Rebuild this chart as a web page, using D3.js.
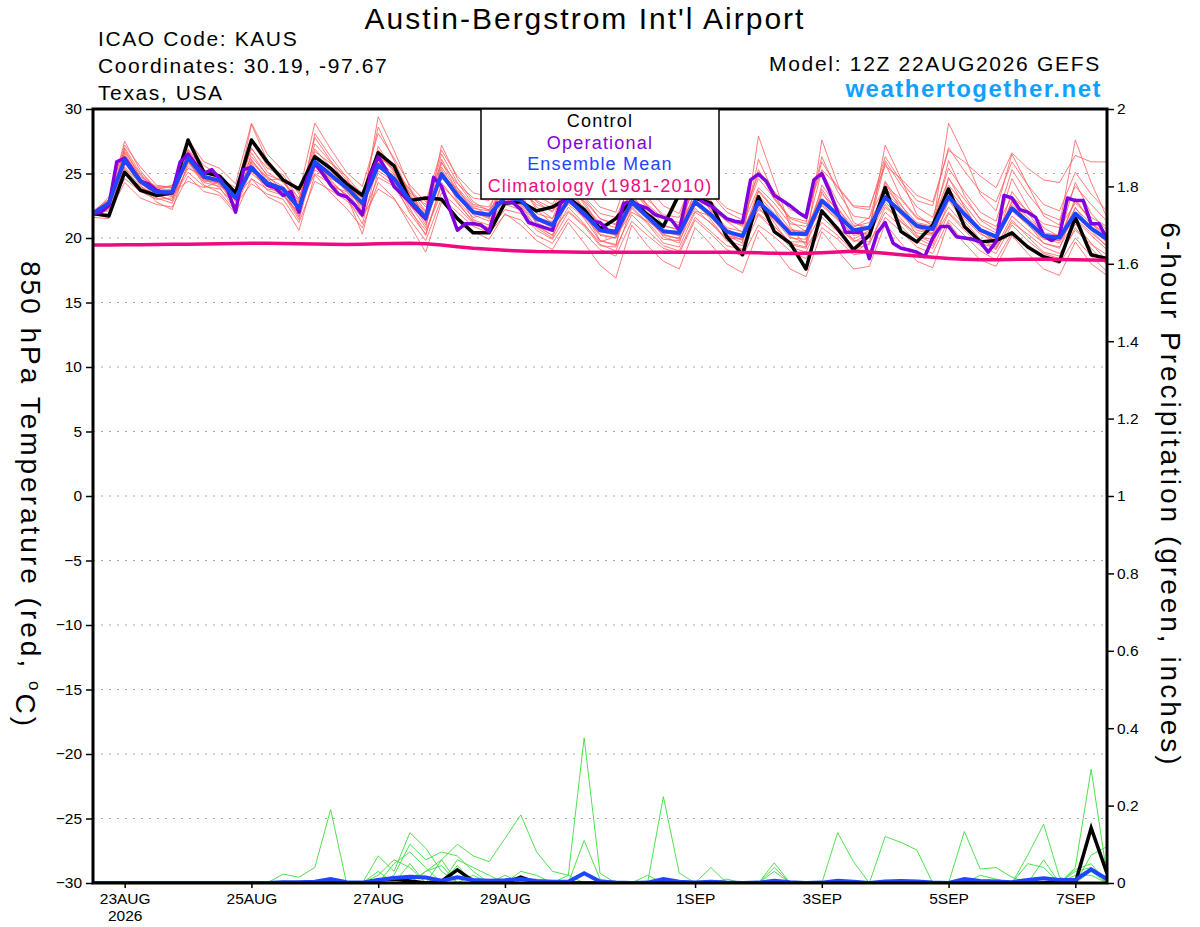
<!DOCTYPE html>
<html>
<head>
<meta charset="utf-8">
<script src="https://cdnjs.cloudflare.com/ajax/libs/d3/7.8.5/d3.min.js"></script>
<style>
  body { margin: 0; background: #fff; }
  svg { display: block; font-family: "Liberation Sans", Arial, sans-serif; }
</style>
</head>
<body>
<div id="chart"></div>
<script>
// run start 12Z 22AUG2026, 6-hourly ensemble output, 3-hourly operational
var runStart = Date.UTC(2026, 7, 22, 12);
var runHours = 384;

var tickDays = ["2026-08-23", "2026-08-25", "2026-08-27", "2026-08-29",
                "2026-09-01", "2026-09-03", "2026-09-05", "2026-09-07"];
var tempTicks = [-30, -25, -20, -15, -10, -5, 0, 5, 10, 15, 20, 25, 30];
var precipTicks = [0, 0.2, 0.4, 0.6, 0.8, 1, 1.2, 1.4, 1.6, 1.8, 2];

// 850 hPa temperature (C)
var control = [21.9,21.7,25.1,23.7,23.3,23.5,27.6,25.1,24.8,23.5,
  27.6,25.9,24.5,23.8,26.3,25.4,24.2,23.3,26.6,25.6,
  22.9,23.1,23.0,21.5,20.4,20.4,22.7,22.8,22.1,22.4,
  23.1,22.2,20.7,21.5,22.9,21.8,20.9,23.4,23.1,22.7,
  20.1,18.7,23.2,20.5,19.6,17.6,22.1,20.7,19.1,20.2,
  23.9,20.5,19.7,21.0,23.8,20.9,19.7,19.8,20.4,19.3,
  18.55,18.2,21.6,18.7,18.4];

var ensMean = [21.9,22.7,26.05,24.4,23.55,23.55,26.2,24.75,24.45,23.1,
  25.45,24.25,23.8,22.3,25.9,24.9,23.9,22.7,25.65,24.6,
  22.9,21.6,24.95,23.3,22.0,21.8,23.15,22.95,21.5,21.0,
  22.95,21.9,20.6,20.4,22.8,21.65,20.5,20.4,22.8,21.8,
  20.5,20.15,22.8,21.65,20.36,20.3,22.9,21.8,20.6,20.8,
  23.15,22.04,20.93,20.7,23.2,21.84,20.62,20.1,22.3,21.26,
  20.18,20.03,21.9,20.75,19.92];

var operational = [21.9,22.0,22.5,25.9,26.2,25.3,24.4,24.2,23.7,23.5,
  23.5,25.9,26.5,25.7,25.0,25.3,24.6,23.7,22.0,25.3,
  25.5,24.8,24.1,23.9,23.3,23.6,22.0,24.6,25.8,25.0,
  24.1,23.4,23.2,22.6,21.8,24.9,26.3,25.3,24.0,23.4,
  22.8,22.1,21.5,24.7,24.0,22.3,20.6,21.1,21.1,21.0,
  20.5,22.7,22.75,22.75,22.2,21.2,21.0,20.8,20.6,22.7,
  23.1,22.4,21.8,21.3,21.2,20.6,20.5,22.7,22.8,22.5,
  22.3,21.8,21.6,21.4,20.6,23.3,23.4,22.8,22.5,22.0,
  21.5,21.3,21.2,24.5,24.95,24.4,23.3,22.9,22.5,22.0,
  21.6,24.5,25.0,23.6,22.0,20.45,20.45,20.45,18.4,20.4,
  21.2,19.6,19.2,19.07,18.9,18.55,20.0,20.9,20.9,20.1,
  20.0,19.9,19.7,18.9,19.7,23.3,23.1,22.2,22.0,21.6,
  20.2,19.8,20.2,23.1,22.9,22.9,21.1,21.1,19.9];

var climatology = [19.45,19.46,19.47,19.48,19.5,19.51,19.52,19.54,19.55,19.57,
  19.6,19.6,19.58,19.56,19.54,19.52,19.5,19.52,19.55,19.58,
  19.6,19.55,19.45,19.32,19.2,19.12,19.05,19.0,18.95,18.93,
  18.91,18.9,18.9,18.9,18.9,18.9,18.9,18.9,18.9,18.9,
  18.9,18.88,18.85,18.82,18.8,18.82,18.86,18.92,18.98,18.92,
  18.82,18.7,18.6,18.5,18.42,18.36,18.32,18.32,18.34,18.36,
  18.36,18.34,18.32,18.3,18.27];

var memberA = [21.8,22.9,27.5,25.2,23.8,23.4,27.3,25.6,24.9,23.0,28.8,26.0,24.6,22.0,28.1,26.3,24.7,
  22.4,29.4,26.8,23.9,21.2,27.2,24.6,22.8,22.1,25.4,24.0,22.4,21.5,24.6,22.6,20.9,
  20.2,24.1,22.5,21.0,20.6,24.4,22.9,21.3,20.4,26.1,23.4,21.3,20.5,25.2,22.8,21.0,
  20.9,25.8,23.1,21.6,21.0,26.0,23.3,21.4,20.6,24.6,22.4,20.8,20.1,24.3,21.9,20.6];
var memberB = [21.7,22.3,24.6,23.6,23.0,23.1,25.1,24.0,23.8,22.6,24.2,23.4,23.0,21.2,24.4,23.7,22.9,
  21.6,23.8,23.0,21.4,19.8,23.1,22.0,20.9,20.4,21.8,21.4,20.2,19.6,21.5,20.4,19.1,
  18.6,21.3,20.2,19.2,18.8,21.4,20.3,19.1,18.6,21.0,20.1,19.0,18.4,20.8,19.9,18.7,
  18.9,21.6,20.5,19.3,18.8,21.4,20.2,19.0,18.3,20.4,19.4,18.5,18.0,20.0,18.6,17.4];
var memberC = [22.0,22.8,26.4,24.8,23.9,23.9,26.8,25.2,24.8,23.6,26.3,24.9,24.4,23.1,26.9,25.5,24.4,
  23.5,26.4,25.3,23.5,22.6,25.8,24.2,23.1,22.9,24.3,23.8,22.6,22.1,24.1,23.2,21.9,
  21.6,24.3,23.0,21.8,21.6,24.6,23.5,22.3,21.8,24.9,23.6,22.2,21.8,25.3,24.0,22.5,
  22.4,25.6,24.6,23.3,22.8,26.8,25.9,24.8,23.9,26.6,25.4,24.5,24.3,26.4,25.9,25.9];
var memberD = [21.9,22.6,26.9,24.6,23.4,22.9,26.5,24.9,24.2,22.4,25.9,24.6,23.5,21.6,26.4,25.1,23.6,
  22.0,27.1,25.2,22.6,20.8,25.9,23.6,21.4,21.0,24.4,23.6,21.0,20.2,24.2,22.1,19.8,
  19.4,24.8,22.4,20.3,19.9,25.1,22.6,20.2,19.6,27.9,24.4,20.9,19.4,27.6,24.2,21.2,
  20.6,27.2,24.6,21.8,20.9,28.9,26.4,23.4,22.1,26.5,24.1,21.7,21.0,27.6,24.3,21.6];
var memberE = [21.6,21.5,25.8,24.1,22.8,22.2,25.9,24.5,24.6,23.9,25.0,24.0,23.3,21.9,25.3,24.4,23.3,
  20.3,25.2,24.4,22.3,20.2,24.1,22.8,21.2,20.8,22.6,22.2,20.9,20.2,22.4,21.1,19.5,
  19.0,22.3,21.1,19.6,19.3,22.0,21.2,19.8,19.1,21.8,20.6,19.3,18.9,21.6,20.5,19.2,
  19.5,22.4,21.3,20.0,19.4,22.9,21.3,19.9,19.1,21.4,20.1,18.9,18.6,21.1,19.6,18.2];
var memberF = [22.1,23.0,26.0,24.7,24.0,24.0,26.1,24.3,24.0,23.4,27.0,25.1,24.3,22.9,27.3,25.9,24.2,
  22.8,26.2,25.5,23.7,22.1,24.6,23.9,22.5,22.2,23.6,23.1,21.9,21.5,23.4,22.4,21.2,
  20.8,23.2,22.0,20.9,20.7,23.5,22.2,20.8,20.5,23.3,21.9,20.6,20.5,23.4,22.2,20.9,
  21.2,23.6,22.3,21.1,20.8,23.5,22.1,20.7,20.2,22.8,21.6,20.4,20.2,22.3,21.1,20.3];
var memberG = [21.8,22.5,25.2,23.9,23.4,23.7,26.9,25.3,24.5,22.8,25.6,24.2,23.9,22.5,25.5,24.6,24.0,
  23.1,25.0,24.1,22.6,21.3,25.3,23.4,22.0,21.6,23.0,22.6,21.2,20.6,22.1,21.0,19.7,
  20.1,22.0,21.3,20.5,20.2,22.3,21.1,20.0,19.9,22.5,21.5,20.3,20.6,22.0,20.9,19.7,
  20.3,22.6,21.2,20.4,20.2,22.4,21.0,19.9,19.3,21.7,20.6,19.6,19.3,21.4,20.2,19.1];
var memberH = [21.9,23.2,27.2,25.5,24.1,23.9,27.6,25.9,25.4,24.2,28.9,26.5,25.2,23.4,28.9,26.9,25.1,
  24.0,28.1,26.2,24.1,22.8,26.8,24.8,23.5,23.2,25.6,24.8,23.3,22.6,25.0,23.8,22.4,
  22.0,25.5,24.0,22.5,21.9,24.9,23.4,22.0,21.4,24.6,23.1,21.6,21.3,25.9,23.9,22.4,
  22.2,26.3,24.4,22.9,22.5,27.0,25.2,23.6,22.8,25.9,24.1,22.6,22.1,25.1,23.4,22.1];
var memberI = [21.7,21.9,24.3,23.1,22.6,22.4,24.8,23.6,23.3,21.9,24.6,23.2,22.6,20.6,24.9,23.5,22.3,
  20.8,24.3,23.1,21.0,18.9,22.8,21.6,20.5,19.9,21.9,21.0,19.8,19.1,21.2,19.6,17.9,
  16.9,21.0,19.4,18.2,17.6,20.8,19.5,18.0,17.3,20.6,19.2,17.6,17.0,20.5,19.0,17.6,
  17.8,21.1,19.6,18.2,17.7,21.2,19.6,18.3,17.8,20.2,18.8,17.6,17.1,19.7,18.0,17.1];
var memberJ = [22.0,22.7,25.5,24.2,23.5,23.2,25.4,24.8,24.6,23.5,25.1,24.5,24.6,23.6,25.8,24.7,23.7,
  22.9,25.9,24.6,22.8,21.7,25.5,23.6,22.3,22.1,23.9,23.2,21.6,21.2,22.8,21.8,20.6,
  20.5,22.5,21.6,20.6,20.4,22.8,22.0,20.7,20.0,22.2,21.5,20.2,20.3,22.5,21.4,20.3,
  20.9,23.1,22.0,20.8,20.4,23.3,21.7,20.5,19.9,22.1,21.0,19.9,19.8,21.5,20.4,19.4];
var memberK = [21.9,22.4,26.7,24.9,23.7,24.1,26.0,24.1,23.5,22.1,26.6,24.8,23.7,21.7,26.2,25.3,24.3,
  22.0,26.8,25.6,23.3,21.6,26.1,23.9,22.0,21.5,24.8,24.1,22.2,21.1,23.8,22.8,20.9,
  20.3,23.8,22.3,20.6,20.2,23.7,22.1,20.4,19.8,23.6,22.2,20.1,19.6,24.1,22.4,20.5,
  20.2,24.4,22.6,20.8,20.3,23.8,22.3,20.6,19.7,23.6,22.0,20.2,19.8,23.1,21.2,19.8];
var memberL = [21.8,22.8,26.3,24.3,23.2,23.5,24.4,23.9,24.4,22.3,25.3,23.7,23.3,22.0,25.6,24.0,23.6,
  22.5,25.4,24.9,23.0,21.0,25.1,22.9,21.6,21.9,22.9,22.4,21.3,21.3,22.6,21.6,20.3,
  20.0,22.4,21.2,19.9,19.8,22.1,21.7,20.6,20.1,21.9,20.9,19.7,19.7,21.9,20.7,19.9,
  20.6,22.8,21.5,20.1,19.9,22.0,20.8,19.6,19.2,21.2,20.3,19.3,18.8,20.6,19.5,18.7];
var memberM = [21.9,23.0,26.6,24.5,23.6,23.8,26.4,24.7,24.1,23.2,26.9,25.4,24.9,23.0,26.7,25.8,24.8,
  23.3,26.6,25.1,23.8,22.4,24.8,23.1,21.9,21.7,25.1,24.6,22.9,22.3,24.5,23.1,21.5,
  21.1,23.5,22.6,21.5,21.2,23.1,22.3,21.3,21.0,23.9,22.7,21.1,20.9,23.0,21.8,20.8,
  21.6,24.1,23.0,21.5,21.2,24.6,23.0,21.5,20.9,23.2,22.1,21.1,20.8,22.7,21.6,20.9];
var memberN = [22.0,22.1,25.0,23.8,23.1,22.7,25.6,24.4,24.3,23.1,24.6,23.8,23.6,22.4,25.0,24.2,23.4,
  21.6,24.7,24.0,22.1,20.6,23.5,22.4,21.1,20.6,22.2,21.9,20.6,19.9,22.0,20.9,19.4,
  19.3,21.8,20.6,19.4,19.0,21.6,20.5,19.4,19.1,22.4,20.9,19.6,19.3,21.2,20.2,18.9,
  19.6,22.0,20.9,19.7,19.2,21.9,20.6,19.4,18.8,21.0,19.8,18.8,18.4,20.8,19.2,17.9];
var memberO = [21.8,22.6,27.0,25.0,23.9,23.6,26.7,25.0,24.7,23.4,27.5,25.6,24.4,22.8,27.8,26.0,24.5,
  23.0,28.6,26.0,23.4,22.0,26.5,24.3,22.6,22.4,24.9,24.2,22.8,22.0,24.0,22.9,21.5,
  21.0,24.9,23.2,21.6,21.0,24.1,22.7,21.5,20.9,25.3,23.0,21.5,21.1,26.3,23.6,21.7,
  21.5,26.0,24.1,22.4,21.6,25.4,23.6,22.0,21.3,25.3,23.4,21.9,21.4,24.0,22.6,21.3];
var memberP = [21.7,22.2,25.4,24.0,23.3,22.9,26.2,24.6,23.9,22.2,26.1,24.4,23.4,21.4,26.0,24.5,23.2,
  21.1,25.8,24.3,21.9,20.3,24.3,22.7,21.3,20.7,23.2,22.5,20.8,20.0,23.1,21.5,19.8,
  19.5,23.4,21.7,20.1,19.6,23.0,21.4,19.8,19.4,22.9,21.2,19.5,19.2,23.6,21.5,19.8,
  19.7,24.3,22.2,20.2,19.6,24.7,22.4,20.4,19.5,22.9,21.1,19.6,19.2,22.4,20.6,19.3];
var memberQ = [22.0,22.9,26.2,24.6,23.7,23.6,25.8,24.5,24.3,23.3,26.0,24.7,24.0,22.7,26.5,25.2,24.1,
  22.6,25.9,25.0,23.2,21.9,25.0,23.7,22.4,21.8,23.5,23.0,21.7,21.0,23.3,22.0,20.5,
  20.2,23.0,21.9,20.7,20.3,23.2,21.8,20.5,20.3,23.7,22.3,20.7,20.4,23.8,22.0,20.5,
  20.7,23.9,22.5,21.2,20.9,24.1,22.6,21.0,20.4,22.6,21.4,20.3,20.0,22.9,21.3,20.0];
var memberR = [21.9,22.4,26.1,24.3,23.4,23.3,26.6,24.8,24.2,22.9,25.8,24.0,23.6,22.2,26.1,24.8,23.8,
  22.3,25.5,24.5,22.5,21.4,24.7,23.2,21.8,21.3,23.4,22.8,21.4,20.8,22.9,21.7,20.2,
  20.0,22.6,21.4,20.2,20.0,22.6,21.6,20.2,19.9,22.7,21.4,20.0,19.9,22.6,21.5,20.2,
  20.4,23.3,21.8,20.6,20.3,23.0,21.5,20.3,19.8,22.2,21.2,20.0,19.6,21.9,20.8,19.6];
var tempMembers = [memberA, memberB, memberC, memberD, memberE, memberF, memberG,
                   memberH, memberI, memberJ, memberK, memberL, memberM, memberN,
                   memberO, memberP, memberQ, memberR];

// 6-hour precipitation (inches)
var precipControl = [0,0,0,0,0,0,0,0,0,0,0,0,0,
  0,0,0,0,0,0.008,0.01,0.005,0,0.005,0.034,0.005,0,
  0,0.015,0,0,0,0,0,0,0,0,0,0,0,
  0,0,0,0,0,0,0,0,0,0,0,0,0,
  0,0,0,0,0,0,0,0,0,0.005,0,0.142,0.025];
var precipMean = [0,0,0,0,0,0,0,0,0,0,0,0,0.002,
  0.002,0.003,0.01,0.002,0.001,0.008,0.013,0.016,0.014,0.006,0.015,0.008,0.006,
  0.007,0.01,0.005,0.003,0.003,0.025,0.004,0.001,0,0.001,0.01,0.003,0.001,
  0.003,0.001,0,0.001,0.006,0.002,0,0.001,0.006,0.003,0,0.004,0.005,
  0.004,0.001,0,0.01,0.005,0.004,0.002,0.008,0.012,0.008,0.008,0.035,0.01];
var precip1 = [0,0,0,0,0,0,0,0,0,0,0,0,0.023,
  0.015,0.04,0.19,0,0,0,0,0,0,0,0,0,0,
  0,0,0,0,0,0,0,0,0,0,0,0,0,
  0,0,0,0,0,0,0,0,0,0,0,0,0,
  0,0,0,0,0,0,0,0,0,0,0.04,0.294,0.02];
var precip2 = [0,0,0,0,0,0,0,0,0,0,0,0,0,
  0,0,0,0,0,0.07,0.03,0.13,0.09,0.03,0,0,0,
  0,0,0,0,0.02,0.375,0.025,0,0,0,0,0,0,
  0,0,0,0,0,0,0,0,0.13,0.055,0,0,0,
  0,0,0,0,0,0,0,0,0.06,0,0,0,0];
var precip3 = [0,0,0,0,0,0,0,0,0,0,0,0,0,
  0,0,0,0,0,0,0,0,0.03,0.06,0.1,0.07,0.055,
  0.115,0.176,0.08,0.03,0.02,0,0,0,0,0,0.223,0.026,0,
  0,0,0,0,0,0,0,0,0,0,0,0,0,
  0,0,0,0.133,0.036,0.04,0.015,0,0,0,0,0.072,0.094];
var precip4 = [0,0,0,0,0,0,0,0,0,0,0,0,0,
  0,0,0,0,0,0,0.02,0.1,0.06,0.08,0.07,0.03,0,
  0,0,0,0,0,0.11,0.01,0,0,0,0,0,0,
  0,0,0,0,0,0,0,0,0,0,0,0.12,0.105,
  0.085,0,0,0,0,0,0,0.072,0.152,0.015,0,0,0];
var precip5 = [0,0,0,0,0,0,0,0,0,0,0,0,0,
  0,0,0,0,0,0.02,0.06,0.04,0,0,0.06,0.04,0.02,
  0,0,0,0,0,0,0,0,0,0,0,0,0,
  0.04,0,0,0,0.052,0,0,0,0,0,0,0,0,
  0,0,0,0,0,0,0,0,0,0,0.035,0.05,0];
var precip6 = [0,0,0,0,0,0,0,0,0,0,0,0,0,
  0,0,0,0,0,0,0.05,0.08,0.04,0,0.045,0,0,
  0.02,0,0,0,0,0,0,0,0,0,0,0,0,
  0,0,0,0,0.04,0,0,0,0,0,0,0,0,
  0,0,0,0,0,0,0,0.05,0.04,0,0,0.03,0];
var precip7 = [0,0,0,0,0,0,0,0,0,0,0,0,0.005,
  0,0,0,0,0,0.03,0,0.05,0,0.06,0,0.02,0,
  0,0,0,0,0,0,0,0,0,0.02,0,0,0,
  0,0,0,0,0.03,0,0,0,0,0,0,0,0,
  0,0,0,0,0.02,0.01,0,0,0,0,0.02,0.02,0];
var precip8 = [0,0,0,0,0,0,0,0,0,0,0,0,0,
  0,0,0,0,0,0,0,0,0.03,0.045,0,0,0,
  0,0.03,0.02,0,0,0,0,0,0,0,0,0,0,
  0,0.01,0,0,0,0,0,0,0,0,0,0,0,
  0,0,0,0,0,0,0,0,0,0,0.03,0.04,0];
var precipMembers = [precip1, precip2, precip3, precip4, precip5, precip6, precip7, precip8];

var W = 1200, H = 927;
var plotL = 93, plotR = 1107, plotT = 109, plotB = 883;

var svg = d3.select("#chart").append("svg")
    .attr("width", W)
    .attr("height", H);

var x = d3.scaleUtc()
    .domain([new Date(runStart), new Date(runStart + runHours * 3600e3)])
    .range([plotL, plotR]);
var yT = d3.scaleLinear().domain([-30, 30]).range([plotB, plotT]);
var yP = d3.scaleLinear().domain([0, 2]).range([plotB, plotT]);

function stepTime(i, hours) {
    return new Date(runStart + i * hours * 3600e3);
}

var lineT = d3.line()
    .x(function(d, i) { return x(stepTime(i, 6)); })
    .y(function(d) { return yT(d); });
var lineOp = d3.line()
    .x(function(d, i) { return x(stepTime(i, 3)); })
    .y(function(d) { return yT(d); });
var lineP = d3.line()
    .x(function(d, i) { return x(stepTime(i, 6)); })
    .y(function(d) { return yP(d); });

svg.append("clipPath").attr("id", "plotclip")
  .append("rect")
    .attr("x", plotL).attr("y", plotT)
    .attr("width", plotR - plotL).attr("height", plotB - plotT);

// dotted grid from the temperature axis
svg.append("g")
  .selectAll("line")
  .data(tempTicks.filter(function(t) { return t > -30 && t < 30; }))
  .enter().append("line")
    .attr("x1", plotL).attr("x2", plotR)
    .attr("y1", function(d) { return yT(d); })
    .attr("y2", function(d) { return yT(d); })
    .attr("stroke", "#a8a8a8")
    .attr("stroke-width", 1.2)
    .attr("stroke-dasharray", "2,6");

var plot = svg.append("g").attr("clip-path", "url(#plotclip)");

plot.selectAll(".member")
    .data(tempMembers)
  .enter().append("path")
    .attr("class", "member")
    .attr("d", lineT)
    .attr("fill", "none")
    .attr("stroke", "#ff5c5c")
    .attr("stroke-width", 0.8);

plot.selectAll(".pmember")
    .data(precipMembers)
  .enter().append("path")
    .attr("class", "pmember")
    .attr("d", lineP)
    .attr("fill", "none")
    .attr("stroke", "#3cdc3c")
    .attr("stroke-width", 0.9);

plot.append("path").attr("d", lineP(precipControl))
    .attr("fill", "none").attr("stroke", "#000").attr("stroke-width", 3.5);
plot.append("path").attr("d", lineP(precipMean))
    .attr("fill", "none").attr("stroke", "#1f45ff").attr("stroke-width", 4);

plot.append("path").attr("d", lineT(control))
    .attr("fill", "none").attr("stroke", "#000").attr("stroke-width", 3.5)
    .attr("stroke-linejoin", "round");
plot.append("path").attr("d", lineOp(operational))
    .attr("fill", "none").attr("stroke", "#8200e0").attr("stroke-width", 3.5)
    .attr("stroke-linejoin", "round");
plot.append("path").attr("d", lineT(ensMean))
    .attr("fill", "none").attr("stroke", "#1f45ff").attr("stroke-width", 4)
    .attr("stroke-linejoin", "round");
plot.append("path").attr("d", lineT(climatology))
    .attr("fill", "none").attr("stroke", "#f00a82").attr("stroke-width", 3.5);

// axes
var tickFont = "15.5px";

var axL = svg.append("g")
    .attr("transform", "translate(" + plotL + ",0)")
    .call(d3.axisLeft(yT).tickValues(tempTicks).tickSize(7).tickPadding(4));
var axR = svg.append("g")
    .attr("transform", "translate(" + plotR + ",0)")
    .call(d3.axisRight(yP).tickValues(precipTicks).tickSize(7).tickPadding(3)
        .tickFormat(function(d) { return String(d); }));
var fmt = d3.utcFormat("%-d%b");
var axB = svg.append("g")
    .attr("transform", "translate(0," + plotB + ")")
    .call(d3.axisBottom(x)
        .tickValues(tickDays.map(function(s) { return new Date(s + "T00:00:00Z"); }))
        .tickSize(5).tickPadding(5)
        .tickFormat(function(d) { return fmt(d).toUpperCase(); }));

[axL, axR, axB].forEach(function(g) {
    g.select(".domain").remove();
    g.selectAll(".tick line").attr("stroke", "#000").attr("stroke-width", 1.5);
    g.selectAll(".tick text")
        .attr("fill", "#000")
        .style("font-family", "'Liberation Sans', Arial, sans-serif")
        .style("font-size", tickFont);
});
axB.select(".tick text").append("tspan")
    .attr("x", 0).attr("dy", "1.1em").text("2026");

svg.append("rect")
    .attr("x", plotL).attr("y", plotT)
    .attr("width", plotR - plotL).attr("height", plotB - plotT)
    .attr("fill", "none").attr("stroke", "#000").attr("stroke-width", 3);

// legend
var legend = svg.append("g");
legend.append("rect")
    .attr("x", 481).attr("y", plotT)
    .attr("width", 238).attr("height", 90)
    .attr("fill", "#fff").attr("stroke", "#000").attr("stroke-width", 1.5);
var legendItems = [
    {label: "Control", color: "#000"},
    {label: "Operational", color: "#8200e0"},
    {label: "Ensemble Mean", color: "#1f45ff"},
    {label: "Climatology (1981-2010)", color: "#f00a82"}
];
legend.selectAll("text")
    .data(legendItems)
  .enter().append("text")
    .attr("x", 600)
    .attr("y", function(d, i) { return 127 + i * 21.7; })
    .attr("text-anchor", "middle")
    .style("font-size", "18px")
    .style("letter-spacing", "1.2px")
    .attr("fill", function(d) { return d.color; })
    .text(function(d) { return d.label; });

// header
svg.append("text")
    .attr("x", 585).attr("y", 29)
    .attr("text-anchor", "middle")
    .style("font-size", "30px").style("letter-spacing", "2px")
    .text("Austin-Bergstrom Int'l Airport");

var infoLines = ["ICAO Code: KAUS", "Coordinates: 30.19, -97.67", "Texas, USA"];
svg.selectAll(".info")
    .data(infoLines)
  .enter().append("text")
    .attr("class", "info")
    .attr("x", 98)
    .attr("y", function(d, i) { return 46 + i * 27; })
    .style("font-size", "21px").style("letter-spacing", "1.6px")
    .text(function(d) { return d; });

svg.append("text")
    .attr("x", 1101).attr("y", 71)
    .attr("text-anchor", "end")
    .style("font-size", "21px").style("letter-spacing", "1.7px")
    .text("Model: 12Z 22AUG2026 GEFS");
svg.append("text")
    .attr("x", 1102).attr("y", 97)
    .attr("text-anchor", "end")
    .style("font-size", "24px").style("font-weight", "bold")
    .style("letter-spacing", "1.5px")
    .attr("fill", "#12a0ff")
    .text("weathertogether.net");

// axis titles
var tl = svg.append("text")
    .attr("transform", "translate(21,495) rotate(90)")
    .attr("text-anchor", "middle")
    .style("font-size", "28px").style("letter-spacing", "3px")
    .text("850 hPa Temperature (red, ");
tl.append("tspan").attr("dy", "-0.45em").style("font-size", "17px").text("o");
tl.append("tspan").attr("dy", "0.45em").text("C)");

svg.append("text")
    .attr("transform", "translate(1161,495) rotate(90)")
    .attr("text-anchor", "middle")
    .style("font-size", "28px").style("letter-spacing", "3px")
    .text("6-hour Precipitation (green, inches)");
</script>
</body>
</html>
